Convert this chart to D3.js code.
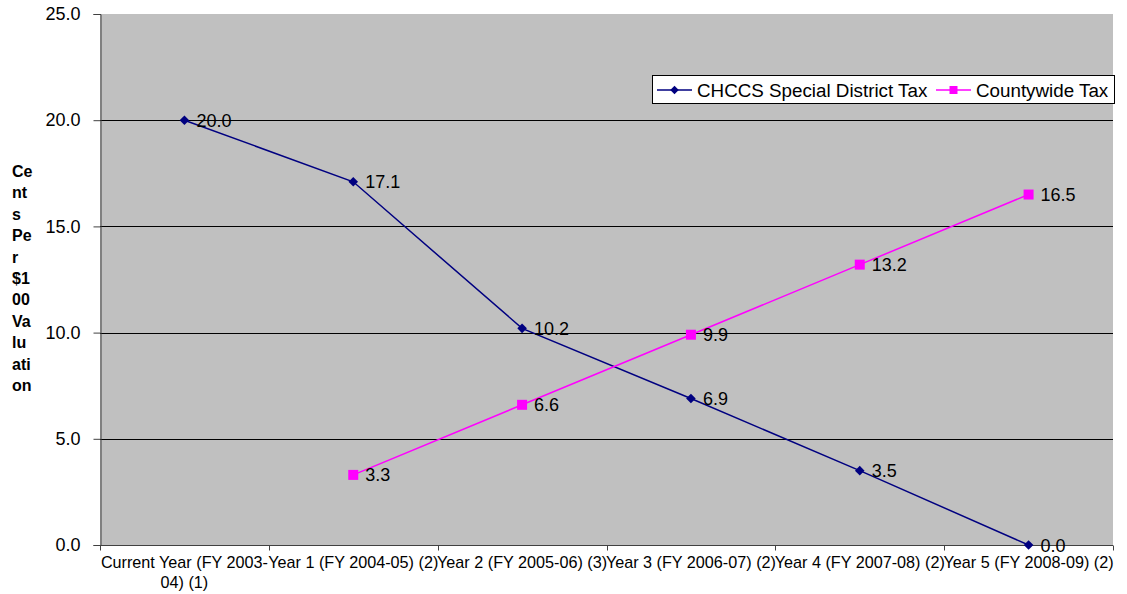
<!DOCTYPE html>
<html>
<head>
<meta charset="utf-8">
<script src="https://cdn.jsdelivr.net/npm/d3@7/dist/d3.min.js"></script>
<style>
  html, body { margin: 0; padding: 0; background: #fff; }
  svg { display: block; font-family: "Liberation Sans", Arial, sans-serif; }
</style>
</head>
<body>
<svg id="chart" width="1127" height="594"></svg>
<script>
// Category keys and their axis labels (one entry per line)
const categories = ["Current", "Year1", "Year2", "Year3", "Year4", "Year5"];
const categoryLabels = [
  ["Current Year (FY 2003-", "04) (1)"],
  ["Year 1 (FY 2004-05) (2)"],
  ["Year 2 (FY 2005-06) (3)"],
  ["Year 3 (FY 2006-07) (2)"],
  ["Year 4 (FY 2007-08) (2)"],
  ["Year 5 (FY 2008-09) (2)"]
];

// Cents per $100 valuation
const specialDistrict = [20.0, 17.1, 10.2, 6.9, 3.5, 0.0];
const countywide = [null, 3.3, 6.6, 9.9, 13.2, 16.5];

const yTicks = [0, 5, 10, 15, 20, 25];
const yTitleLines = ["Ce", "nt", "s", "Pe", "r", "$1", "00", "Va", "lu", "ati", "on"];

const seriesNames = ["CHCCS Special District Tax", "Countywide Tax"];
const seriesColors = ["#000080", "#FF00FF"];

const svg = d3.select("#chart");
const plot = { left: 100, right: 1113, top: 14, bottom: 545 };

const x = d3.scaleBand().domain(categories).range([plot.left, plot.right]);
const y = d3.scaleLinear().domain([0, 25]).range([plot.bottom, plot.top]);

// Plot background
svg.append("rect")
  .attr("x", plot.left).attr("y", plot.top)
  .attr("width", plot.right - plot.left).attr("height", plot.bottom - plot.top)
  .attr("fill", "#C0C0C0");

// Horizontal gridlines
svg.append("g").selectAll("line")
  .data(yTicks.filter(d => d > 0 && d < 25))
  .join("line")
  .attr("x1", plot.left).attr("x2", plot.right)
  .attr("y1", d => Math.round(y(d)) + 0.5).attr("y2", d => Math.round(y(d)) + 0.5)
  .attr("stroke", "#000").attr("stroke-width", 1);

// Y axis
const yAxis = svg.append("g")
  .attr("transform", `translate(${plot.left + 0.5},0)`)
  .call(d3.axisLeft(y).tickValues(yTicks).tickFormat(d3.format(".1f")).tickSize(7).tickPadding(13));
yAxis.select(".domain").attr("stroke", "#404040");
yAxis.selectAll(".tick line").attr("stroke", "#404040");
yAxis.selectAll("text").attr("font-size", 18).attr("fill", "#000")
  .attr("font-family", "'Liberation Sans', Arial, sans-serif");

// X axis: ticks at band boundaries
const xAxis = svg.append("g")
  .attr("transform", `translate(0,${plot.bottom + 0.5})`);
xAxis.append("line")
  .attr("x1", plot.left).attr("x2", plot.right)
  .attr("stroke", "#404040");
const boundaries = categories.map(c => x(c)).concat([x(categories[categories.length - 1]) + x.bandwidth()]);
xAxis.selectAll(".btick").data(boundaries).join("line")
  .attr("class", "btick")
  .attr("x1", d => Math.round(d) + 0.5).attr("x2", d => Math.round(d) + 0.5)
  .attr("y1", 0).attr("y2", 5)
  .attr("stroke", "#404040");

// Category labels
const labelG = svg.append("g");
categories.forEach((c, i) => {
  const t = labelG.append("text")
    .attr("x", x(c) + x.bandwidth() / 2)
    .attr("y", 568)
    .attr("text-anchor", "middle")
    .attr("font-size", 16.2)
    .attr("fill", "#000");
  categoryLabels[i].forEach((line, j) => {
    t.append("tspan")
      .attr("x", x(c) + x.bandwidth() / 2)
      .attr("dy", j === 0 ? 0 : 20)
      .text(line);
  });
});

// Y axis title, stacked in narrow fragments
const yTitle = svg.append("text")
  .attr("x", 12).attr("y", 177)
  .attr("font-size", 16).attr("font-weight", "bold").attr("fill", "#000");
yTitleLines.forEach((s, i) => {
  yTitle.append("tspan").attr("x", 12).attr("dy", i === 0 ? 0 : 21.4).text(s);
});

const cx = i => x(categories[i]) + x.bandwidth() / 2;

function drawSeries(values, color, marker) {
  const pts = values.map((v, i) => ({ i, v })).filter(d => d.v !== null);
  const line = d3.line().x(d => cx(d.i)).y(d => y(d.v));
  svg.append("path")
    .datum(pts)
    .attr("d", line)
    .attr("fill", "none")
    .attr("stroke", color)
    .attr("stroke-width", 1.5);
  svg.append("g").selectAll("path")
    .data(pts).join("path")
    .attr("transform", d => marker === "diamond"
      ? `translate(${cx(d.i)},${y(d.v)}) rotate(45)`
      : `translate(${cx(d.i)},${y(d.v)})`)
    .attr("d", marker === "diamond" ? d3.symbol().type(d3.symbolSquare).size(46)() : d3.symbol().type(d3.symbolSquare).size(100)())
    .attr("fill", color);
  svg.append("g").selectAll("text")
    .data(pts).join("text")
    .attr("x", d => cx(d.i) + 12)
    .attr("y", d => y(d.v) + 6.5)
    .attr("font-size", 18)
    .attr("fill", "#000")
    .text(d => d3.format(".1f")(d.v));
}

drawSeries(specialDistrict, seriesColors[0], "diamond");
drawSeries(countywide, seriesColors[1], "square");

// Legend
const legend = svg.append("g");
legend.append("rect")
  .attr("x", 652.5).attr("y", 75.5).attr("width", 462).attr("height", 28)
  .attr("fill", "#fff").attr("stroke", "#000");
const legendItems = [
  { x: 657, name: seriesNames[0], color: seriesColors[0], marker: "diamond" },
  { x: 936, name: seriesNames[1], color: seriesColors[1], marker: "square" }
];
legendItems.forEach(it => {
  legend.append("line")
    .attr("x1", it.x).attr("x2", it.x + 35)
    .attr("y1", 90).attr("y2", 90)
    .attr("stroke", it.color).attr("stroke-width", 1.5);
  legend.append("path")
    .attr("transform", it.marker === "diamond"
      ? `translate(${it.x + 17.5},90) rotate(45)` : `translate(${it.x + 17.5},90)`)
    .attr("d", it.marker === "diamond" ? d3.symbol().type(d3.symbolSquare).size(36)() : d3.symbol().type(d3.symbolSquare).size(64)())
    .attr("fill", it.color);
  legend.append("text")
    .attr("x", it.x + 40).attr("y", 96.5)
    .attr("font-size", 18.8).attr("fill", "#000")
    .text(it.name);
});
</script>
</body>
</html>
